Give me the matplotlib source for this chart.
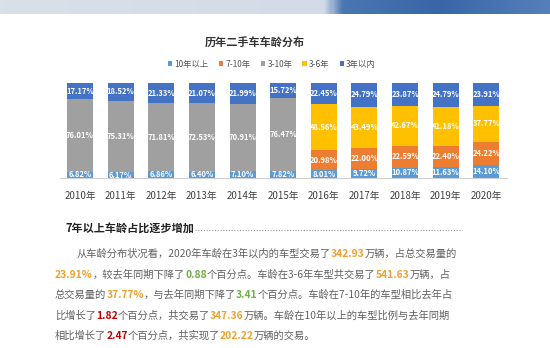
import matplotlib.pyplot as plt
import numpy as np
from matplotlib.colors import LinearSegmentedColormap

plt.rcParams['font.family'] = ['Noto Sans CJK SC', 'DejaVu Sans']

years = ['2010年', '2011年', '2012年', '2013年', '2014年', '2015年',
         '2016年', '2017年', '2018年', '2019年', '2020年']
over10 = [6.82, 6.17, 6.86, 6.40, 7.10, 7.82, 8.01, 9.72, 10.87, 11.63, 14.10]
y7_10 = [0, 0, 0, 0, 0, 0, 20.98, 22.00, 22.59, 22.40, 24.22]
y3_10 = [76.01, 75.31, 71.81, 72.53, 70.91, 76.47, 0, 0, 0, 0, 0]
y3_6 = [0, 0, 0, 0, 0, 0, 48.56, 43.49, 42.67, 41.18, 37.77]
under3 = [17.17, 18.52, 21.33, 21.07, 21.99, 15.72, 22.45, 24.79, 23.87, 24.79, 23.91]

series = [('10年以上', over10, '#5b9bd5'),
          ('7-10年', y7_10, '#ed7d31'),
          ('3-10年', y3_10, '#a0a0a0'),
          ('3-6年', y3_6, '#ffc000'),
          ('3年以内', under3, '#4472c4')]

W, H = 550, 348
fig = plt.figure(figsize=(5.5, 3.48), dpi=100)

# header band
hax = fig.add_axes([0, 1 - 14 / H, 1, 14 / H])
cmap = LinearSegmentedColormap.from_list('hdr', [(0, '#d9e0ea'), (0.59, '#d3dbe8'),
                                                  (0.625, '#4a76b2'), (0.8, '#3a66a6'),
                                                  (1, '#5580bb')])
hax.imshow(np.linspace(0, 1, 300)[None, :], aspect='auto', cmap=cmap)
hax.axis('off')

ax = fig.add_axes([59.7 / W, 1 - 178 / H, 447 / W, 95 / H])
x = np.arange(len(years))
bottom = np.zeros(len(years))
for name, vals, col in series:
    vals = np.array(vals)
    ax.bar(x, vals, 0.64, bottom=bottom, color=col, label=name)
    for xi, v, b in zip(x, vals, bottom):
        if v > 0:
            ax.text(xi, b + v / 2, '%.2f%%' % v, ha='center', va='center',
                    color='white', fontsize=5.5, fontweight='bold')
    bottom += vals

ax.set_xlim(-0.5, 10.5)
ax.set_ylim(0, 100)
ax.set_xticks(x)
ax.set_xticklabels(years, fontsize=7, color='#404040')
ax.tick_params(axis='x', length=0, pad=9)
ax.set_yticks([])
for s in ['top', 'left', 'right']:
    ax.spines[s].set_visible(False)
ax.spines['bottom'].set_color('#d0d0d0')

fig.text(255 / W, 1 - 43 / H, '历年二手车车龄分布', ha='center', va='center',
         fontsize=8, fontweight='bold', color='#333333')
fig.legend(loc='center', bbox_to_anchor=(272 / W, 1 - 64 / H), ncol=5, frameon=False,
           fontsize=6, handlelength=0.5, handleheight=0.5, handletextpad=0.3,
           columnspacing=1.2, labelcolor='#555555')

# text block
fig.text(65 / W, 1 - 229 / H, '7年以上车龄占比逐步增加', ha='left', va='center',
         fontsize=8, fontweight='bold', color='#222222')
fig.add_artist(plt.Line2D([195 / W, 462 / W], [1 - 230 / H, 1 - 230 / H],
                          color='#999999', lw=0.8, ls=(0, (1, 1.5))))

grey = '#606060'
orange = '#f0a030'
green = '#70ad47'
red = '#c00000'
lines = [
    (77, 254, [('从车龄分布状况看，2020年车龄在3年以内的车型交易了', grey), ('342.93', orange),
               ('万辆，占总交易量的', grey)]),
    (55, 275, [('23.91%', orange), ('，较去年同期下降了', grey), ('0.88', green),
               ('个百分点。车龄在3-6年车型共交易了', grey), ('541.63', orange), ('万辆，占', grey)]),
    (55, 295, [('总交易量的', grey), ('37.77%', orange), ('，与去年同期下降了', grey), ('3.41', green),
               ('个百分点。车龄在7-10年的车型相比去年占', grey)]),
    (55, 316, [('比增长了', grey), ('1.82', red), ('个百分点，共交易了', grey), ('347.36', orange),
               ('万辆。车龄在10年以上的车型比例与去年同期', grey)]),
    (55, 336, [('相比增长了', grey), ('2.47', red), ('个百分点，共实现了', grey), ('202.22', orange),
               ('万辆的交易。', grey)]),
]
renderer = fig.canvas.get_renderer()
for x0, y0, segs in lines:
    xp = x0
    for s, c in segs:
        bold = c != grey
        t = fig.text(xp / W, 1 - y0 / H, s, ha='left', va='center', fontsize=7.4,
                     color=c, fontweight='bold' if bold else 'normal')
        xp += t.get_window_extent(renderer).width

fig.savefig('out.png', dpi=100, facecolor='white')
